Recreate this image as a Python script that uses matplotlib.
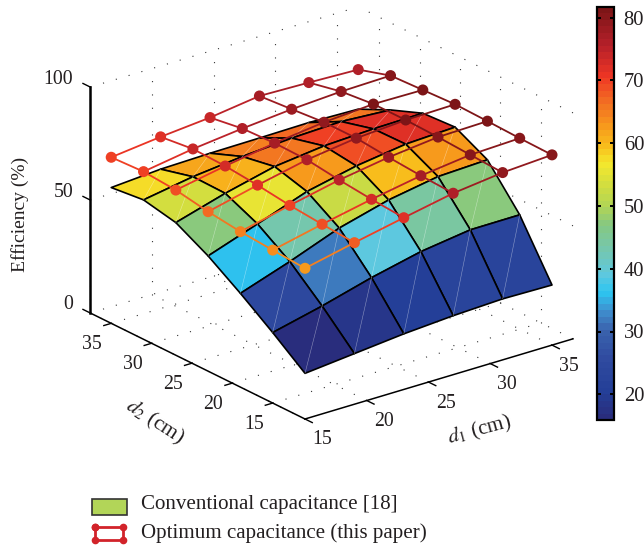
#!/usr/bin/env python3
"""Efficiency vs coil distances: conventional surface and optimum mesh."""

import matplotlib

matplotlib.use("Agg")
import matplotlib.pyplot as plt  # noqa: E402
import numpy as np  # noqa: E402
from matplotlib.cm import ScalarMappable  # noqa: E402
from matplotlib.colors import LinearSegmentedColormap, Normalize  # noqa: E402
from matplotlib.lines import Line2D  # noqa: E402
from matplotlib.patches import Rectangle  # noqa: E402
from mpl_toolkits.mplot3d import proj3d  # noqa: E402

plt.rcParams["font.family"] = ["Liberation Serif", "DejaVu Serif"]
plt.rcParams["mathtext.fontset"] = "stix"

W, H = 644, 549
TEXT = "#231f20"

# grid of the two surfaces
d1 = [15, 19, 23, 27, 31, 35]
d2 = [11, 15, 19, 23, 27, 31, 35]

# conventional capacitance, rows are d2, columns d1
conventional = [
    [20.2, 22.4, 24.6, 26.1, 27.0, 26.6],
    [31.2, 36.4, 42.4, 47.4, 50.5, 50.6],
    [41.5, 49.0, 57.3, 63.2, 67.0, 67.9],
    [51.0, 58.6, 66.4, 71.2, 74.3, 75.3],
    [58.7, 65.1, 70.4, 73.0, 74.0, 74.4],
    [61.7, 65.4, 67.8, 69.4, 70.2, 68.8],
    [60.1, 61.7, 62.2, 62.4, 62.7, 62.1],
]
# optimum capacitance (this paper)
optimum = [
    [66.7, 71.5, 76.0, 80.3, 82.9, 84.2],
    [67.7, 72.6, 77.1, 81.0, 83.7, 84.5],
    [68.8, 73.9, 78.6, 82.1, 84.5, 85.0],
    [70.6, 75.8, 80.5, 83.5, 85.0, 85.4],
    [73.1, 77.2, 80.8, 83.5, 85.0, 84.7],
    [74.2, 77.7, 80.2, 82.2, 83.5, 84.0],
    [73.5, 76.0, 78.0, 81.0, 80.4, 79.6],
]
# colour of each surface cell, as read against the colorbar
cell_values = [
    [16.5, 18.5, 20.5, 22.5, 23.0],
    [25.0, 32.0, 39.5, 44.0, 47.0],
    [36.0, 43.5, 52.0, 59.5, 63.0],
    [47.0, 55.0, 63.0, 68.5, 72.0],
    [53.0, 61.0, 66.0, 69.5, 72.0],
    [57.5, 62.0, 65.0, 66.5, 66.0],
]

# colormap stops
cmap_values = [15, 20, 25, 30, 33, 36, 39, 43, 47, 50, 53, 57, 60, 63, 67, 71, 76, 82]
cmap_colors = [
    "#2a2a78", "#243f98", "#2f4a9f", "#3a63ad", "#3f8fce", "#2dc5f1",
    "#5fc8de", "#75c7ae", "#85c882", "#b0d556", "#cddc42", "#f4e82d",
    "#f8bc1c", "#f79b1c", "#f26a23", "#ee3524", "#b5202a", "#7a1416",
]
cbar_ticks = [20, 30, 40, 50, 60, 70, 80]

axis_ticks = [15, 20, 25, 30, 35]
z_ticks = [0, 50, 100]
xlim = (15, 36.7)
ylim = (11, 37.6)
zlim = (0, 100)

vmin, vmax = 15.9, 81.7
norm = Normalize(vmin, vmax)
stops = [(v - cmap_values[0]) / (cmap_values[-1] - cmap_values[0]) for v in cmap_values]
cmap_full = LinearSegmentedColormap.from_list("eff", list(zip(stops, cmap_colors)), N=256)
# the colorbar only shows part of the stops, in 64 bands like MATLAB
cmap = LinearSegmentedColormap.from_list(
    "eff64", cmap_full(np.linspace((vmin - 15) / 67, (vmax - 15) / 67, 64)), N=64
)


def mesh_color(z):
    # the mesh colours run about 4 below its height on the colorbar
    return cmap(norm(z - 4))


fig = plt.figure(figsize=(W / 100, H / 100), dpi=100)
ax = fig.add_axes([0.05, 0.1, 0.85, 0.85], projection="3d", proj_type="ortho", computed_zorder=False)
ax.set_xlim(*xlim, view_margin=0)
ax.set_ylim(*ylim, view_margin=0)
ax.set_zlim(*zlim, view_margin=0)
ax.view_init(elev=22.6, azim=-127.9)
ax.set_box_aspect((340, 350, 245))
ax.set_axis_off()
ax.patch.set_alpha(0)


def to_px(x, y, z):
    px, py, _ = proj3d.proj_transform(x, y, z, ax.get_proj())
    return ax.transData.transform((px, py))


# fit the box onto the reference: front corner at (305, 419), right end at x=573
fig.canvas.draw()
for _ in range(3):
    front, right = to_px(xlim[0], ylim[0], 0), to_px(xlim[1], ylim[0], 0)
    scale = (573 - 305) / (right[0] - front[0])
    box = ax.get_position()
    cx, cy = box.x0 + box.width / 2, box.y0 + box.height / 2
    ax.set_position([cx - box.width * scale / 2, cy - box.height * scale / 2,
                     box.width * scale, box.height * scale])
    fig.canvas.draw()
    front = to_px(xlim[0], ylim[0], 0)
    box = ax.get_position()
    ax.set_position([box.x0 + (305 - front[0]) / W, box.y0 + ((H - 419) - front[1]) / H,
                     box.width, box.height])
    fig.canvas.draw()

# dotted grid on floor and the two back walls
dots = dict(color="#333333", lw=0.8, ls=(0, (1, 11)), zorder=1)
for t in axis_ticks:
    ax.plot([t, t], [ylim[0], ylim[1]], [0, 0], **dots)
    ax.plot([xlim[0], xlim[1]], [t, t], [0, 0], **dots)
    ax.plot([t, t], [ylim[1], ylim[1]], zlim, **dots)
    ax.plot([xlim[1], xlim[1]], [t, t], zlim, **dots)
for t in z_ticks:
    ax.plot(xlim, [ylim[1], ylim[1]], [t, t], **dots)
    ax.plot([xlim[1], xlim[1]], ylim, [t, t], **dots)

# axis lines
ax.plot(xlim, [ylim[0], ylim[0]], [0, 0], color="black", lw=1.1, zorder=2)
ax.plot([xlim[0], xlim[0]], ylim, [0, 0], color="black", lw=1.1, zorder=2)
ax.plot([xlim[0], xlim[0]], [ylim[1], ylim[1]], zlim, color="black", lw=1.8, zorder=2)

tick_font = 14.2
for t in axis_ticks:
    ax.plot([t, t], [ylim[0], ylim[0] - 0.9], [0, 0], color="black", lw=1.0, zorder=2)
    ax.plot([xlim[0], xlim[0] - 0.6], [t, t], [0, 0], color="black", lw=1.0, zorder=2)
    px = to_px(t, ylim[0], 0)
    fig.text((px[0] + 17) / W, (px[1] - 21) / H, str(t), ha="center", va="center",
             fontsize=tick_font, color=TEXT)
    px = to_px(xlim[0], t, 0)
    fig.text((px[0] - 19) / W, (px[1] - 21) / H, str(t), ha="center", va="center",
             fontsize=tick_font, color=TEXT)
for t in z_ticks:
    ax.plot([xlim[0], xlim[0]], [ylim[1], ylim[1] + 0.9], [t, t], color="black", lw=1.0, zorder=2)
    px = to_px(xlim[0], ylim[1], t)
    fig.text((px[0] - 17) / W, (px[1] + 8) / H, str(t), ha="right", va="center",
             fontsize=tick_font, color=TEXT)

fig.text(20 / W, 1 - 214 / H, "Efficiency (%)", rotation=90, ha="center", va="center",
         fontsize=14, color=TEXT)
fig.text(480 / W, 1 - 430 / H, r"$d_1$ (cm)", rotation=15, ha="center", va="center",
         fontsize=15.3, color=TEXT)
fig.text(155 / W, 1 - 422 / H, r"$d_2$ (cm)", rotation=-33, ha="center", va="center",
         fontsize=15.3, color=TEXT)

# conventional surface
X, Y = np.meshgrid(d1, d2)
Z_conv = np.array(conventional)
Z_opt = np.array(optimum)
surf = ax.plot_surface(
    X, Y, Z_conv, rstride=1, cstride=1, facecolors=cmap(norm(np.array(cell_values))),
    shade=False, edgecolor="black", linewidth=1.2, antialiased=True, zorder=3,
)

# faint seams of the triangulated patches
for j in range(len(d2) - 1):
    for i in range(len(d1) - 1):
        ax.plot([d1[i], d1[i + 1]], [d2[j], d2[j + 1]], [Z_conv[j, i], Z_conv[j + 1, i + 1]],
                color="white", lw=0.4, alpha=0.45, zorder=4)

# optimum mesh, one segment at a time so the colour follows the height
for j in range(len(d2)):
    for i in range(len(d1)):
        if i + 1 < len(d1):
            z = [Z_opt[j, i], Z_opt[j, i + 1]]
            ax.plot([d1[i], d1[i + 1]], [d2[j], d2[j]], z, color=mesh_color(np.mean(z)), lw=1.3, zorder=5)
        if j + 1 < len(d2):
            z = [Z_opt[j, i], Z_opt[j + 1, i]]
            ax.plot([d1[i], d1[i]], [d2[j], d2[j + 1]], z, color=mesh_color(np.mean(z)), lw=1.3, zorder=5)
ax.scatter(X.ravel(), Y.ravel(), Z_opt.ravel(), c=[mesh_color(z) for z in Z_opt.ravel()],
           s=63, depthshade=False, linewidths=0, zorder=6)

# colorbar
cax = fig.add_axes([597 / W, 1 - 420 / H, 17 / W, 413 / H])
cb = fig.colorbar(ScalarMappable(norm=norm, cmap=cmap), cax=cax, ticks=cbar_ticks)
cb.outline.set_linewidth(1.6)
cax.tick_params(direction="in", left=True, right=True, length=3, width=1.4,
                labelsize=14.8, labelcolor=TEXT, pad=7)

# legend, drawn by hand because of the boxed marker key
fig.add_artist(Rectangle((92 / W, 1 - 515 / H), 35 / W, 16 / H, transform=fig.transFigure,
                         facecolor="#b2d558", edgecolor="#333333", lw=1.2))
key_x = [95 / W, 123 / W, 123 / W, 95 / W, 95 / W]
key_y = [1 - 527 / H, 1 - 527 / H, 1 - 540 / H, 1 - 540 / H, 1 - 527 / H]
fig.add_artist(Line2D(key_x, key_y, transform=fig.transFigure, color="#d2232a", lw=2,
                      marker="o", ms=5.5, mew=0))
fig.text(141 / W, 1 - 505 / H, "Conventional capacitance [18]", va="center", fontsize=15.1, color=TEXT)
fig.text(141 / W, 1 - 533 / H, "Optimum capacitance (this paper)", va="center", fontsize=15.1, color=TEXT)

fig.savefig("out.png", dpi=100)
